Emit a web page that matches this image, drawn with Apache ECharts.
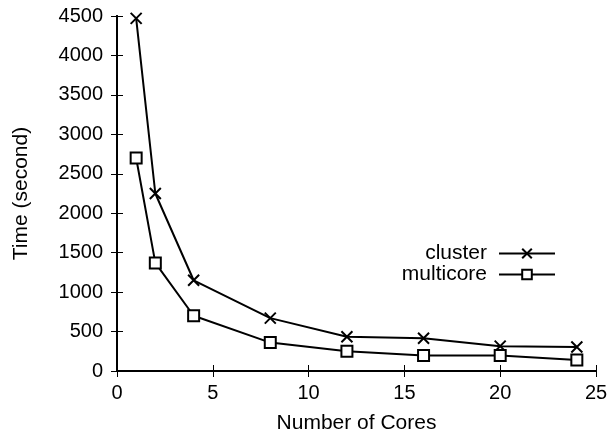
<!DOCTYPE html>
<html>
<head>
<meta charset="utf-8">
<script src="https://cdn.jsdelivr.net/npm/echarts@6/dist/echarts.min.js"></script>
<style>
  html, body { margin: 0; padding: 0; background: #fff; }
  #chart { width: 610px; height: 434px; }
</style>
</head>
<body>
<div id="chart"></div>
<script>
var cores = [1, 2, 4, 8, 12, 16, 20, 24];
var clusterTime = [4470, 2250, 1150, 670, 435, 415, 315, 305];
var multicoreTime = [2700, 1370, 700, 360, 250, 195, 195, 140];

function pairs(xs, ys) {
    return xs.map(function (x, i) { return [x, ys[i]]; });
}

var myChart = echarts.init(document.getElementById('chart'));
var font = 'Liberation Sans, Arial, sans-serif';
var crossPath = 'path://M0,0L10,10M10,0L0,10';

var tickStyle = { show: true, inside: true, length: 6, lineStyle: { color: '#000', width: 1 } };

var option = {
    backgroundColor: '#ffffff',
    animation: false,
    grid: { left: 117, right: 14, top: 16, bottom: 63, outerBoundsMode: 'none', containLabel: false },
    legend: {
        orient: 'vertical',
        right: 49,
        top: 238,
        align: 'right',
        itemWidth: 56,
        itemHeight: 12,
        itemGap: 0,
        textStyle: { fontFamily: font, fontSize: 21, lineHeight: 20, color: '#000', padding: [0, 7, 0, 0] },
        data: ['cluster', 'multicore']
    },
    xAxis: [{
        type: 'value',
        min: 0, max: 25, interval: 5,
        name: 'Number of Cores',
        nameLocation: 'middle',
        nameGap: 42,
        nameTextStyle: { fontFamily: font, fontSize: 21, color: '#000' },
        axisLine: { lineStyle: { color: '#000', width: 2 } },
        axisTick: tickStyle,
        axisLabel: { fontFamily: font, fontSize: 20, color: '#000', margin: 12 },
        splitLine: { show: false }
    }, {
        type: 'value', position: 'top',
        min: 0, max: 25, interval: 5,
        axisLine: { show: true, lineStyle: { color: '#000', width: 2 } },
        axisTick: tickStyle,
        axisLabel: { show: false },
        splitLine: { show: false }
    }],
    yAxis: [{
        type: 'value',
        min: 0, max: 4500, interval: 500,
        name: 'Time (second)',
        nameLocation: 'middle',
        nameGap: 85,
        nameTextStyle: { fontFamily: font, fontSize: 21, color: '#000' },
        axisLine: { show: true, lineStyle: { color: '#000', width: 2 } },
        axisTick: tickStyle,
        axisLabel: {
            fontFamily: font, fontSize: 20, color: '#000', margin: 14,
            formatter: function (v) { return String(v); }
        },
        splitLine: { show: false }
    }, {
        type: 'value', position: 'right',
        min: 0, max: 4500, interval: 500,
        axisLine: { show: true, lineStyle: { color: '#000', width: 2 } },
        axisTick: tickStyle,
        axisLabel: { show: false },
        splitLine: { show: false }
    }],
    series: [{
        name: 'cluster',
        type: 'line',
        data: pairs(cores, clusterTime),
        symbol: crossPath,
        symbolSize: 11,
        showAllSymbol: true,
        lineStyle: { color: '#000', width: 2 },
        itemStyle: { color: '#000', borderColor: '#000', borderWidth: 2 }
    }, {
        name: 'multicore',
        type: 'line',
        data: pairs(cores, multicoreTime),
        symbol: 'rect',
        symbolSize: 11,
        showAllSymbol: true,
        lineStyle: { color: '#000', width: 2 },
        itemStyle: { color: '#fff', borderColor: '#000', borderWidth: 2 }
    }]
};

myChart.setOption(option);
window.addEventListener("resize", function () {
    myChart.resize();
});
</script>
</body>
</html>
